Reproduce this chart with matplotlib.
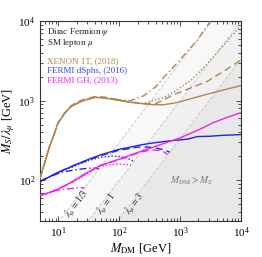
import numpy as np
import matplotlib
matplotlib.use("Agg")
import matplotlib.pyplot as plt

plt.rcParams['font.family'] = ['Liberation Serif', 'DejaVu Serif']
plt.rcParams['mathtext.fontset'] = 'stix'

# ---- data ----
xenon_solid_x = [5, 5.5, 6.3, 7.2, 8.2, 9.9, 12.8, 16.3, 24, 40, 57, 90, 140, 330, 534, 900, 1310, 2500, 4500, 10000]
xenon_solid_y = [105, 135, 192, 270, 350, 526, 700, 847, 980, 1100, 1080, 1020, 960, 895, 890, 950, 1030, 1180, 1330, 1550]

xenon_dash_x = [5, 5.5, 6.3, 7.2, 8.2, 9.9, 12.8, 16.3, 24, 40, 57, 90, 140, 250, 400, 783, 1500, 2800, 5000, 10000]
xenon_dash_y = [105, 135, 192, 270, 350, 526, 710, 870, 1020, 1130, 1110, 1040, 975, 915, 920, 1190, 1450, 1750, 2300, 3250]

xenon_dot_x = [5, 5.5, 6.3, 7.2, 8.2, 9.9, 12.8, 16.3, 24, 40, 57, 90, 140, 250, 534, 800, 1500, 2500, 5000, 10000]
xenon_dot_y = [105, 135, 192, 270, 350, 526, 705, 860, 1000, 1115, 1095, 1030, 970, 930, 1090, 1300, 1800, 2650, 4800, 8900]

xenon_dashdot_x = [5, 5.5, 6.3, 7.2, 8.2, 9.9, 12.8, 16.3, 24, 40, 57, 90, 150, 250, 400, 534, 800, 1930, 3160]
xenon_dashdot_y = [105, 135, 192, 270, 350, 526, 700, 850, 990, 1105, 1090, 1040, 1000, 1150, 1500, 1950, 2700, 5800, 10000]

dsph_solid_x = [5, 7, 9.8, 15, 20, 30.8, 50, 96.6, 152, 205, 300, 534, 800, 1330, 1930, 3000, 5000, 10000]
dsph_solid_y = [97, 110, 126, 145, 160, 183, 210, 244, 262, 275, 290, 307, 318, 330, 355, 358, 368, 376]

dsph_dashdot_x = [5, 7, 9.8, 12, 16, 22, 30, 38, 46]
dsph_dashdot_y = [97, 110, 122, 128, 133, 138, 142, 143, 140]

dsph_dot_x = [5, 7, 9.8, 15, 20, 30, 48, 75, 100, 130, 160, 175]
dsph_dot_y = [97, 110, 125, 142, 155, 175, 195, 202, 200, 192, 180, 172]

dsph_dash_x = [5, 7, 9.8, 15, 20, 30.8, 50, 96.6, 150, 200, 300, 400, 500, 600, 680]
dsph_dash_y = [97, 110, 126, 145, 159, 180, 205, 238, 252, 262, 262, 255, 245, 235, 226]

gh_solid_x = [5, 7, 10, 16, 30, 50, 100, 220, 500, 1000, 2000, 3500, 6000, 10000]
gh_solid_y = [65, 70, 78, 94, 126, 155, 185, 230, 285, 342, 430, 531, 620, 708]

gh_dashdot_x = [5, 7, 9, 12, 16, 22, 27]
gh_dashdot_y = [65, 70, 75, 77, 79, 81, 81]

gh_dot_x = [5, 7, 10, 16, 25, 35, 45, 70, 100, 134, 155]
gh_dot_y = [65, 70, 78, 93, 110, 130, 148, 157, 160, 158, 155]

gh_dash_x = [5, 7, 10, 16, 30, 50, 100, 220, 330, 475, 560, 620]
gh_dash_y = [65, 70, 78, 94, 126, 155, 183, 225, 242, 237, 225, 210]

lambdas = [1/3, 1, 3]
lambda_labels = [r'$\lambda_\mu = 1/3$', r'$\lambda_\mu = 1$', r'$\lambda_\mu = 3$']
lambda_label_y = [51, 51, 51]
shade_colors = ['#f8f8f8', '#f0f0f0', '#e8e8e8']

legend_texts = ['Dirac Fermion $\\psi$', 'SM lepton $\\mu$', 'XENON 1T, (2018)',
                'FERMI dSphs, (2016)', 'FERMI GH, (2013)']

brown = '#b08552'
blue = '#2323e6'
magenta = '#f020f0'
legend_colors = ['#222222', '#222222', brown, '#4040ff', magenta]

xmin, xmax, ymin, ymax = 5, 1e4, 31, 1e4

fig = plt.figure(figsize=(2.62, 2.57), dpi=100)
ax = fig.add_axes([40/262, 36/257, 201/262, 200/257])
ax.set_xscale('log')
ax.set_yscale('log')
ax.set_xlim(xmin, xmax)
ax.set_ylim(ymin, ymax)

xx = np.array([xmin, xmax])
for lam, col in zip(lambdas, shade_colors):
    ax.fill_between(xx, ymin, xx / lam, color=col, lw=0, zorder=0)
    ax.plot(xx, xx / lam, color='#c4c4c4', lw=0.6, ls=(0, (4, 2)), zorder=1)

fig.canvas.draw()
for lam, lab, yl in zip(lambdas, lambda_labels, lambda_label_y):
    p1 = ax.transData.transform((10, 10 / lam))
    p2 = ax.transData.transform((100, 100 / lam))
    ang = np.degrees(np.arctan2(p2[1] - p1[1], p2[0] - p1[0]))
    xl = yl * lam * 1.2
    ax.text(xl, yl, lab, rotation=ang, rotation_mode='anchor', ha='center', va='center',
            fontsize=7, color='#333333', zorder=5)

lw = 1.0
ax.plot(xenon_solid_x, xenon_solid_y, color=brown, lw=lw, zorder=3)
ax.plot(xenon_dash_x, xenon_dash_y, color=brown, lw=lw, ls=(0, (5, 3)), zorder=3)
ax.plot(xenon_dot_x, xenon_dot_y, color=brown, lw=lw, ls=(0, (1, 1.5)), zorder=3)
ax.plot(xenon_dashdot_x, xenon_dashdot_y, color=brown, lw=lw, ls=(0, (5, 2, 1, 2)), zorder=3)

ax.plot(dsph_solid_x, dsph_solid_y, color=blue, lw=lw, zorder=3)
ax.plot(dsph_dash_x, dsph_dash_y, color=blue, lw=lw, ls=(0, (5, 3)), zorder=3)
ax.plot(dsph_dot_x, dsph_dot_y, color=blue, lw=lw, ls=(0, (1, 1.5)), zorder=3)
ax.plot(dsph_dashdot_x, dsph_dashdot_y, color=blue, lw=lw, ls=(0, (5, 2, 1, 2)), zorder=3)

ax.plot(gh_solid_x, gh_solid_y, color=magenta, lw=lw, zorder=3)
ax.plot(gh_dash_x, gh_dash_y, color=magenta, lw=lw, ls=(0, (5, 3)), zorder=3)
ax.plot(gh_dot_x, gh_dot_y, color=magenta, lw=lw, ls=(0, (1, 1.5)), zorder=3)
ax.plot(gh_dashdot_x, gh_dashdot_y, color=magenta, lw=lw, ls=(0, (5, 2, 1, 2)), zorder=3)

ys = [0.946, 0.888, 0.80, 0.75, 0.705]
for t, c, y in zip(legend_texts, legend_colors, ys):
    ax.text(0.035, y, t, transform=ax.transAxes, color=c, fontsize=6.5, ha='left', va='center')

ax.text(1530, 100, r'$M_{\rm DM} > M_S$', color='#777777', fontsize=7, ha='center', va='center')

ax.set_xlabel(r'$M_{\rm DM}$ [GeV]', fontsize=9, labelpad=1)
ax.set_ylabel(r'$M_S/\lambda_\mu$ [GeV]', fontsize=9, labelpad=1)
ax.tick_params(which='both', direction='in', top=True, right=True, labelsize=8, width=0.6, colors='#333333')
ax.tick_params(which='major', length=3.5)
ax.tick_params(which='minor', length=2)
ax.tick_params(labelcolor='black')
for s in ax.spines.values():
    s.set_linewidth(0.8)
    s.set_color('#333333')

fig.savefig('out.png', dpi=100)
